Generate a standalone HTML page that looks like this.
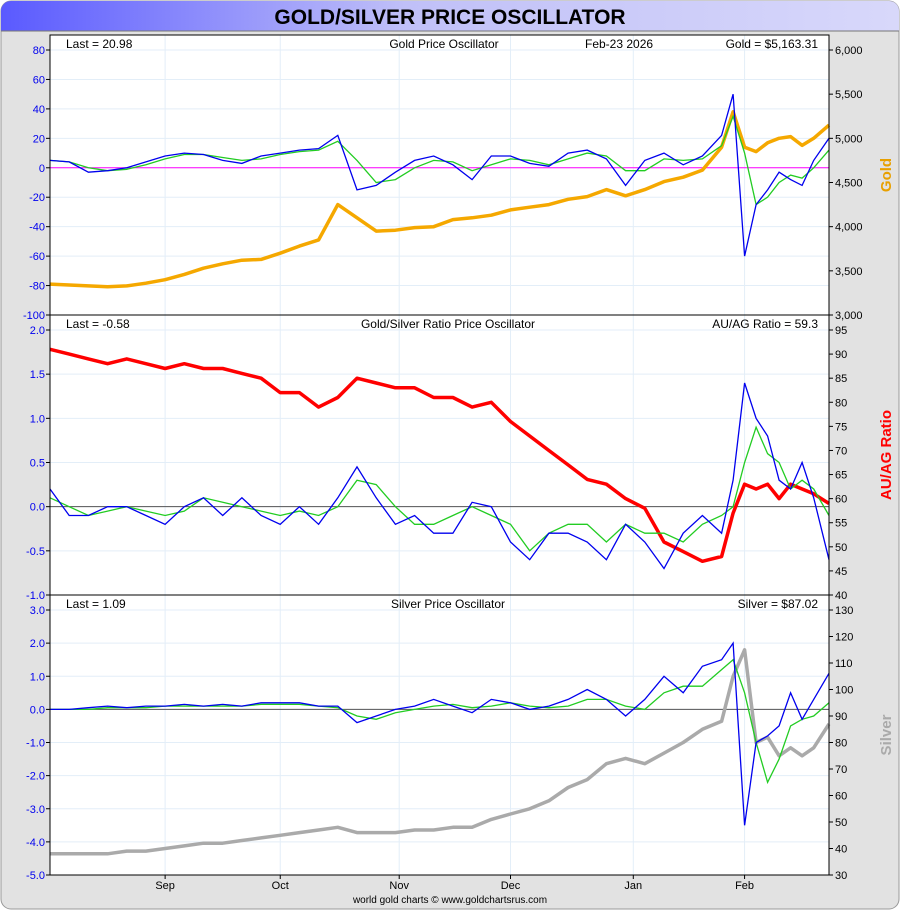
<!DOCTYPE html>
<html><head><meta charset="utf-8"><style>
body{margin:0;background:#fff;font-family:"Liberation Sans",sans-serif}
svg{display:block}
</style></head><body>
<svg id="c" width="900" height="910" xmlns="http://www.w3.org/2000/svg" font-family="Liberation Sans, sans-serif">
<defs><linearGradient id="tg" x1="0" x2="1"><stop offset="0" stop-color="#5a5aff"/><stop offset="0.45" stop-color="#c0c0f8"/><stop offset="1" stop-color="#d8d8fa"/></linearGradient></defs>
<rect x="1" y="1" width="898" height="908" rx="10" fill="#e2e2e2" stroke="#999"/>
<path d="M1 11 a10 10 0 0 1 10 -10 H889 a10 10 0 0 1 10 10 V31 H1 Z" fill="url(#tg)"/>
<line x1="1" y1="31" x2="899" y2="31" stroke="#777"/>
<text x="450" y="24" text-anchor="middle" font-size="21" font-weight="bold" fill="#000">GOLD/SILVER PRICE OSCILLATOR</text>
<g id="g"></g>
<text x="450" y="903" text-anchor="middle" font-size="10" fill="#000">world gold charts © www.goldchartsrus.com</text>
</svg>
<script>
const days=[0,5,10,15,20,25,30,35,40,45,50,55,60,65,70,75,80,85,90,95,100,105,110,115,120,125,130,135,140,145,150,155,160,165,170,175,178,181,184,187,190,193,196,199,203];
const monthLabels=["Sep","Oct","Nov","Dec","Jan","Feb"];
const monthDays=[30,60,91,120,152,181];
const goldPrice=[3350,3340,3330,3320,3330,3360,3400,3460,3530,3580,3620,3630,3700,3780,3850,4250,4100,3950,3960,3990,4000,4080,4100,4130,4190,4220,4250,4310,4340,4420,4350,4420,4510,4560,4640,4900,5300,4900,4850,4950,5000,5020,4920,5000,5150];
const goldOsc=[5,4,-3,-2,0,4,8,10,9,5,3,8,10,12,13,22,-15,-12,-3,5,8,2,-8,8,8,3,1,10,12,6,-12,5,10,2,8,22,50,-60,-25,-15,-3,-8,-12,5,20];
const goldSig=[5,4,0,-2,-1,2,6,9,9,7,5,6,9,11,12,18,5,-10,-8,0,5,4,-2,2,6,5,2,6,10,8,-2,-2,6,5,6,15,35,10,-25,-20,-10,-5,-7,0,12];
const ratio=[91,90,89,88,89,88,87,88,87,87,86,85,82,82,79,81,85,84,83,83,81,81,79,80,76,73,70,67,64,63,60,58,51,49,47,48,57,63,62,63,60,63,62,61,59];
const ratioOsc=[0.2,-0.1,-0.1,0,0,-0.1,-0.2,0,0.1,-0.1,0.1,-0.1,-0.2,0,-0.2,0.1,0.45,0.1,-0.2,-0.1,-0.3,-0.3,0.05,0,-0.4,-0.6,-0.3,-0.3,-0.4,-0.6,-0.2,-0.4,-0.7,-0.3,-0.1,-0.3,0.3,1.4,1.0,0.8,0.3,0.2,0.5,0.1,-0.6];
const ratioSig=[0.1,0,-0.1,-0.05,0,-0.05,-0.1,-0.05,0.1,0.05,0,-0.05,-0.1,-0.05,-0.1,0,0.3,0.25,0,-0.2,-0.2,-0.1,0,-0.1,-0.2,-0.5,-0.3,-0.2,-0.2,-0.4,-0.2,-0.3,-0.3,-0.4,-0.2,-0.1,0,0.5,0.9,0.6,0.5,0.2,0.3,0.2,-0.1];
const silverPrice=[38,38,38,38,39,39,40,41,42,42,43,44,45,46,47,48,46,46,46,47,47,48,48,51,53,55,58,63,66,72,74,72,76,80,85,88,105,115,80,82,75,78,75,78,87];
const silverOsc=[0,0,0.05,0.1,0.05,0.1,0.1,0.15,0.1,0.15,0.1,0.2,0.2,0.2,0.1,0.1,-0.4,-0.2,0,0.1,0.3,0.1,-0.1,0.3,0.2,0,0.1,0.3,0.6,0.3,-0.2,0.3,1.0,0.5,1.3,1.5,2.0,-3.5,-1.0,-0.8,-0.5,0.5,-0.3,0.3,1.09];
const silverSig=[0,0,0,0.05,0.05,0.05,0.1,0.1,0.1,0.1,0.1,0.15,0.15,0.15,0.1,0.05,-0.2,-0.3,-0.1,0,0.1,0.15,0.05,0.1,0.2,0.1,0.05,0.1,0.3,0.3,0.1,0,0.5,0.7,0.7,1.2,1.5,0.5,-1.0,-2.2,-1.5,-0.5,-0.3,-0.2,0.2];

const NS="http://www.w3.org/2000/svg";const G=document.getElementById('g');
const X0=50,X1=829,D1=203;
function xs(d){return X0+(X1-X0)*d/D1;}
function el(t,a,txt){const e=document.createElementNS(NS,t);for(const k in a)e.setAttribute(k,a[k]);if(txt!=null)e.textContent=txt;G.appendChild(e);return e;}
const panels=[
 {top:35,bot:315,lmin:-100,lmax:80,lstep:20,ltop:50,dec:0,rmin:3000,rmax:6000,rstep:500,rfmt:v=>v.toLocaleString('en-US'),
  price:goldPrice,pcol:"#f5a800",osc:goldOsc,sig:goldSig,last:"Last = 20.98",title:"Gold Price Oscillator",right:"Gold = $5,163.31",date:"Feb-23  2026",ylab:"Gold",ycol:"#e8a000",name:"gold"},
 {top:315,bot:595,lmin:-1,lmax:2,lstep:0.5,ltop:330,dec:1,rmin:40,rmax:95,rstep:5,rfmt:v=>v,
  price:ratio,pcol:"#ff0000",osc:ratioOsc,sig:ratioSig,last:"Last = -0.58",title:"Gold/Silver Ratio Price Oscillator",right:"AU/AG Ratio = 59.3",ylab:"AU/AG Ratio",ycol:"#ff0000",name:"ratio"},
 {top:595,bot:875,lmin:-5,lmax:3,lstep:1,ltop:610,dec:1,rmin:30,rmax:130,rstep:10,rfmt:v=>v,
  price:silverPrice,pcol:"#aaaaaa",osc:silverOsc,sig:silverSig,last:"Last = 1.09",title:"Silver Price Oscillator",right:"Silver = $87.02",ylab:"Silver",ycol:"#aaaaaa",name:"silver"}];
panels.forEach(p=>{
 const ly=v=>p.bot-(v-p.lmin)/(p.lmax-p.lmin)*(p.bot-p.ltop);
 const ry=v=>p.bot-(v-p.rmin)/(p.rmax-p.rmin)*(p.bot-p.ltop);
 const bg=el('rect',{x:X0,y:p.top,width:X1-X0,height:p.bot-p.top,fill:"#fff"});
 
 
 monthDays.forEach(d=>el('line',{x1:xs(d),x2:xs(d),y1:p.top,y2:p.bot,stroke:"#e3eef8"}));
 for(let v=p.lmin;v<=p.lmax+1e-9;v+=p.lstep){
  const y=ly(v);
  el('line',{x1:X0,x2:X1,y1:y,y2:y,stroke:"#e3eef8"});
  el('line',{x1:X0-4,x2:X0,y1:y,y2:y,stroke:"#000"});
  const t=el('text',{x:X0-5,y:y+4,'text-anchor':'end','font-size':11,fill:"#0000ee"},v.toFixed(p.dec));
  
  
 }
 for(let v=p.rmin;v<=p.rmax+1e-9;v+=p.rstep){
  const y=ry(v);
  el('line',{x1:X1,x2:X1+4,y1:y,y2:y,stroke:"#000"});
  const t=el('text',{x:X1+6,y:y+4,'font-size':11,fill:"#000"},p.rfmt(v));
  
  
 }
 const z=el('line',{x1:X0,x2:X1,y1:ly(0),y2:ly(0),stroke:p.name=="gold"?"#ff00ff":"#555"});
 
 
 const mk=(arr,f)=>arr.map((v,i)=>xs(days[i]).toFixed(1)+","+f(v).toFixed(1)).join(" ");
 const pl=el('polyline',{points:mk(p.price,ry),fill:"none",stroke:p.pcol,'stroke-width':3.5,'stroke-linejoin':'round'});
 
 
 const sl=el('polyline',{points:mk(p.sig,ly),fill:"none",stroke:"#22cc22",'stroke-width':1.3});
 
 
 const ol=el('polyline',{points:mk(p.osc,ly),fill:"none",stroke:"#0000ee",'stroke-width':1.3});
 
 
 const fr=el('rect',{x:X0,y:p.top,width:X1-X0,height:p.bot-p.top,fill:"none",stroke:"#000"});
 
 
 const a=el('text',{x:66,y:p.top+13,'font-size':12},p.last);
 
 
 const b=el('text',{x:p.name=="gold"?444:448,y:p.top+13,'font-size':12,'text-anchor':'middle'},p.title);
 
 
 const c=el('text',{x:818,y:p.top+13,'font-size':12,'text-anchor':'end'},p.right);
 
 
 if(p.date){const d=el('text',{x:585,y:p.top+13,'font-size':12},p.date);
  
  }
 const cy=(p.top+p.bot)/2;
 const yl=el('text',{x:891,y:cy,'font-size':15,'font-weight':'bold',fill:p.ycol,'text-anchor':'middle',transform:`rotate(-90 891 ${cy})`},p.ylab);
 
 
});
monthDays.forEach((d,i)=>{
 el('line',{x1:xs(d),x2:xs(d),y1:875,y2:879,stroke:"#000"});
 const t=el('text',{x:xs(d),y:889,'font-size':11,'text-anchor':'middle'},monthLabels[i]);
 
 
});
</script>
</body></html>
